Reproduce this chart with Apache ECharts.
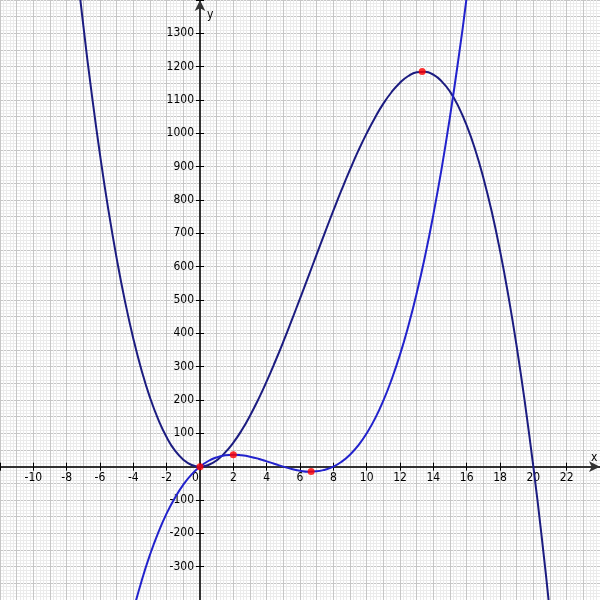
<!DOCTYPE html>
<html>
<head>
<meta charset="utf-8">
<script src="https://cdn.jsdelivr.net/npm/echarts@6/dist/echarts.min.js"></script>
<style>html,body{margin:0;padding:0;background:#fff}#c{width:600px;height:600px}</style>
</head>
<body>
<div id="c"></div>
<script>
// Curve samples
var xsG = [-8,-7.5,-7,-6.5,-6,-5.5,-5,-4.5,-4,-3.5,-3,-2.5,-2,-1.5,-1,-0.5,0,0.5,1,1.5,2,2.5,3,3.5,4,4.5,5,5.5,6,6.5,7,7.5,8,8.5,9,9.5,10,10.5,11,11.5,12,12.5,13,13.5,14,14.5,15,15.5,16,16.5,17,17.5,18,18.5,19,19.5,20,20.5,21,21.5];
var ysG = [1792,1547,1323,1120,936,771,625,496,384,288,207,141,88,48,21,5,0,5,19,42,72,109,153,202,256,314,375,439,504,570,637,703,768,831,891,948,1000,1047,1089,1124,1152,1172,1183,1185,1176,1156,1125,1081,1024,953,867,766,648,513,361,190,0,-210,-441,-693];
var xsF = [-4.5,-4,-3.5,-3,-2.5,-2,-1.5,-1,-0.5,0,0.5,1,1.5,2,2.5,3,3.5,4,4.5,5,5.5,6,6.5,7,7.5,8,8.5,9,9.5,10,10.5,11,11.5,12,12.5,13,13.5,14,14.5,15,15.5,16,16.5];
var ysF = [-534,-432,-342,-264,-197,-140,-93,-54,-23,0,17,28,34,36,34,30,24,16,8,0,-7,-12,-15,-14,-9,0,15,36,64,100,144,198,262,336,422,520,631,756,895,1050,1221,1408,1613];
var ptsX = [0, 2, 6.667, 13.333];
var ptsY = [0, 36, -14.8, 1185.2];
var xMin = -12, xMax = 24, yMin = -400, yMax = 1400;
var xLabelStep = 2, yLabelStep = 100;

function zip(a, b){ return a.map(function(v,i){ return [v, b[i]]; }); }

var W = 600, H = 600;
// offsets that bring the label-only axes to the zero lines
var xLabOffset = -((0 - yMin) / (yMax - yMin)) * H;
var yLabOffset = -((0 - xMin) / (xMax - xMin)) * W;

var font = '"DejaVu Sans Condensed","DejaVu Sans",sans-serif';
var axisCol = '#333';
var chart = echarts.init(document.getElementById('c'), null, {renderer:'canvas'});
var gridAxisX = {type:'value', min:xMin, max:xMax, interval:1, axisLine:{show:false,onZero:false}, axisTick:{show:false}, axisLabel:{show:false},
  splitLine:{show:true, lineStyle:{color:'#c6c6c6', width:1}}, minorTick:{show:false, splitNumber:5}, minorSplitLine:{show:true, lineStyle:{color:'#ebebeb', width:1}}};
var gridAxisY = {type:'value', min:yMin, max:yMax, interval:50, axisLine:{show:false,onZero:false}, axisTick:{show:false}, axisLabel:{show:false},
  splitLine:{show:true, lineStyle:{color:'#c6c6c6', width:1}}, minorTick:{show:false, splitNumber:5}, minorSplitLine:{show:true, lineStyle:{color:'#ebebeb', width:1}}};

var option = {
  animation:false,
  backgroundColor:'#fff',
  grid:{left:0,right:0,top:0,bottom:0,containLabel:false,outerBoundsMode:'none'},
  xAxis:[
    gridAxisX,
    {type:'value', min:xMin, max:xMax, interval:xLabelStep, position:'bottom',
      name:'x', nameLocation:'end', nameGap:-9,
      nameTextStyle:{fontFamily:font, fontSize:12, color:'#000', verticalAlign:'bottom', padding:[0,0,3,0]},
      axisLine:{show:true, onZero:true, onZeroAxisIndex:1, symbol:['none','arrow'], symbolSize:[8,11], lineStyle:{color:axisCol, width:2}},
      axisTick:{show:true, inside:false, length:4, lineStyle:{color:'#000', width:1}},
      axisLabel:{show:false}, splitLine:{show:false}},
    {type:'value', min:xMin, max:xMax, interval:xLabelStep, position:'bottom',
      axisLine:{show:false, onZero:true, onZeroAxisIndex:2},
      axisTick:{show:true, inside:true, length:4, lineStyle:{color:'#000', width:1}},
      axisLabel:{show:false}, splitLine:{show:false}},
    {type:'value', min:xMin, max:xMax, interval:xLabelStep, position:'bottom', offset:xLabOffset,
      axisLine:{show:false, onZero:false}, axisTick:{show:false}, splitLine:{show:false},
      axisLabel:{show:true, margin:5, fontFamily:font, fontSize:12, color:'#000', showMinLabel:false, showMaxLabel:false,
        formatter:function(v){ return v===0 ? '{z|0}' : String(v); }, rich:{z:{fontFamily:font, fontSize:12, color:'#000', padding:[0,9,0,0]}}}}
  ],
  yAxis:[
    gridAxisY,
    {type:'value', min:yMin, max:yMax, interval:yLabelStep, position:'left',
      name:'y', nameLocation:'end', nameGap:-21,
      nameTextStyle:{fontFamily:font, fontSize:12, color:'#000', align:'left', padding:[0,0,0,7]},
      axisLine:{show:true, onZero:true, onZeroAxisIndex:1, symbol:['none','arrow'], symbolSize:[8,11], lineStyle:{color:axisCol, width:2}},
      axisTick:{show:true, inside:false, length:4, lineStyle:{color:'#000', width:1}},
      axisLabel:{show:false}, splitLine:{show:false}},
    {type:'value', min:yMin, max:yMax, interval:yLabelStep, position:'left',
      axisLine:{show:false, onZero:true, onZeroAxisIndex:2},
      axisTick:{show:true, inside:true, length:4, lineStyle:{color:'#000', width:1}},
      axisLabel:{show:false}, splitLine:{show:false}},
    {type:'value', min:yMin, max:yMax, interval:yLabelStep, position:'left', offset:yLabOffset,
      axisLine:{show:false, onZero:false}, axisTick:{show:false}, splitLine:{show:false},
      axisLabel:{show:true, margin:6, fontFamily:font, fontSize:12, color:'#000', showMinLabel:false, showMaxLabel:false,
        formatter:function(v){ return v===0 ? '' : String(v); }}}
  ],
  series:[
    {type:'line', xAxisIndex:0, yAxisIndex:0, data:zip(xsG, ysG), smooth:true, showSymbol:false, clip:true,
      lineStyle:{color:'#1c1c80', width:2}, z:3},
    {type:'line', xAxisIndex:0, yAxisIndex:0, data:zip(xsF, ysF), smooth:true, showSymbol:false, clip:true,
      lineStyle:{color:'#2222cc', width:2}, z:3},
    {type:'scatter', xAxisIndex:0, yAxisIndex:0, data:zip(ptsX, ptsY), symbolSize:7, itemStyle:{color:'#ff0000'}, z:5}
  ]
};
chart.setOption(option);
</script>
</body>
</html>
